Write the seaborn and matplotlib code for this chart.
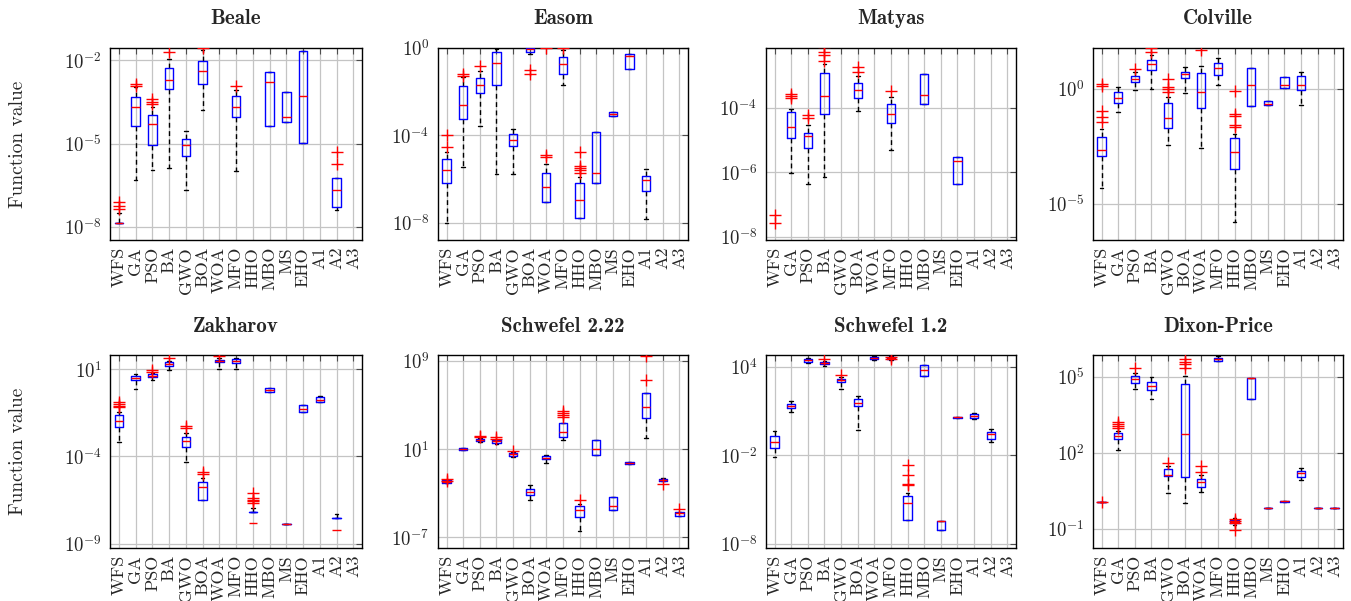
import matplotlib
matplotlib.use("Agg")
import matplotlib.pyplot as plt
import numpy as np
import pandas as pd
import seaborn as sns
from matplotlib.ticker import FixedLocator, FuncFormatter, NullLocator

ALGOS = ["WFS", "GA", "PSO", "BA", "GWO", "BOA", "WOA", "MFO", "HHO", "MBO",
         "MS", "EHO", "A1", "A2", "A3"]

# every box is (whisker low, q1, median, q3, whisker high), given as log10 of the value
# outliers are log10 values too, one list per algorithm
BEALE_BOX = [(-7.85, -7.85, -7.85, -7.85, -7.5), (-6.30, -4.38, -3.70, -3.34, -2.98),
             (-5.96, -5.06, -4.28, -3.98, -3.70), (-5.88, -3.02, -2.72, -2.28, -1.94),
             (-6.68, -5.46, -5.04, -4.82, -4.54), (-3.80, -2.84, -2.38, -2.02, -1.64), None,
             (-5.99, -4.06, -3.68, -3.30, -3.06), None, (-4.36, -4.36, -2.80, -2.41, -2.41),
             (-4.24, -4.24, -4.06, -3.15, -3.15), (-4.99, -4.99, -3.27, -1.65, -1.65), None,
             (-7.40, -7.28, -6.69, -6.24, -6.24), None]
BEALE_OUT = [[-7.10, -7.26, -7.38], [-2.86, -2.92], [-3.40, -3.50, -3.58], [-1.70], [], [-1.56],
             [], [-2.92], [], [], [], [], [], [-5.30, -5.75], []]

EASOM_BOX = [(-8.0, -6.16, -5.59, -5.06, -4.76), (-5.44, -3.23, -2.62, -1.75, -1.33),
             (-3.55, -2.06, -1.68, -1.36, -1.05), (-5.75, -1.69, -0.69, -0.18, -0.03),
             (-5.75, -4.47, -4.22, -3.92, -3.73), (-0.26, -0.18, -0.06, -0.01, -0.005),
             (-7.06, -7.06, -6.36, -5.70, -5.29), (-1.68, -1.17, -0.75, -0.41, -0.10),
             (-7.77, -7.77, -6.97, -6.20, -5.90), (-6.20, -6.20, -5.72, -3.84, -3.84),
             (-3.13, -3.13, -3.03, -2.93, -2.93), (-0.96, -0.96, -0.38, -0.29, -0.29),
             (-7.85, -6.55, -6.05, -5.85, -5.53), None, None]
EASOM_OUT = [[-3.99, -4.53], [-1.20, -1.28], [-0.84], [], [], [-0.99, -1.20],
             [-4.91, -4.98, 0.0], [0.0], [-4.76, -5.40, -5.49, -5.59, -5.70], [], [], [], [], [], []]

MATYAS_BOX = [None, (-6.03, -4.93, -4.60, -4.12, -4.03), (-6.36, -5.24, -4.89, -4.77, -4.53),
              (-6.14, -4.19, -3.64, -2.93, -2.64), None, (-4.10, -3.70, -3.46, -3.23, -3.03), None,
              (-5.32, -4.46, -4.21, -3.90, -3.67), None, (-3.90, -3.90, -3.61, -2.95, -2.95), None,
              (-6.37, -6.37, -5.65, -5.52, -5.52), None, None, None]
MATYAS_OUT = [[-7.31, -7.57], [-3.57, -3.63, -3.69], [-4.24, -4.31], [-2.12, -2.26, -2.38, -2.54],
              [], [-2.74, -2.90], [], [-3.48], [], [], [], [], [], [], []]

COLVILLE_BOX = [(-4.32, -2.93, -2.67, -2.10, -1.77), (-1.02, -0.63, -0.42, -0.16, 0.09),
                (-0.07, 0.27, 0.42, 0.55, 0.73), (0.0, 0.82, 1.08, 1.25, 1.44),
                (-2.45, -1.71, -1.27, -0.62, -0.36), (-0.19, 0.48, 0.62, 0.73, 0.94),
                (-2.56, -0.86, -0.14, 0.68, 0.98), (0.17, 0.61, 0.91, 1.12, 1.33),
                (-5.79, -3.49, -2.74, -2.16, -1.95), (-0.75, -0.75, 0.14, 0.89, 0.89),
                (-0.73, -0.73, -0.65, -0.53, -0.53), (0.04, 0.04, 0.14, 0.50, 0.50),
                (-0.73, -0.07, 0.14, 0.53, 0.73), None, None]
COLVILLE_OUT = [[0.19, 0.10, -0.97, -1.22, -1.44], [], [0.85], [1.76, 1.59],
                [0.40, 0.07, 0.0, -0.14], [], [1.66], [], [-0.10, -1.08, -1.18, -1.59, -1.66],
                [], [], [], [], [], []]

ZAKHAROV_BOX = [(-3.18, -2.32, -1.94, -1.65, -1.46), (-0.11, 0.37, 0.50, 0.62, 0.73),
                (0.39, 0.54, 0.64, 0.73, 0.80), (0.94, 1.21, 1.31, 1.40, 1.48),
                (-4.29, -3.48, -3.10, -2.91, -2.63), (-6.48, -6.48, -5.76, -5.47, -5.24),
                (1.0, 1.40, 1.48, 1.55, 1.63), (1.0, 1.38, 1.48, 1.57, 1.63),
                (-7.17, -7.17, -7.84, -7.17, -6.96), (-0.32, -0.32, -0.18, -0.05, -0.05),
                (-7.87, -7.87, -7.87, -7.87, -7.87), (-1.46, -1.46, -1.29, -1.04, -1.04),
                (-0.89, -0.89, -0.76, -0.60, -0.53), (-7.55, -7.55, -8.24, -7.55, -7.28), None]
ZAKHAROV_OUT = [[-0.85, -0.98, -1.10, -1.18], [], [0.96, 0.87], [1.63], [-2.24, -2.34],
                [-4.90, -5.01], [1.76], [], [-6.10, -6.39, -6.48, -6.58, -6.67], [], [], [], [], [], []]

SCHW222_BOX = [(-2.09, -2.09, -1.97, -1.85, -1.85), (0.90, 0.90, 1.0, 1.09, 1.09),
               (1.60, 1.72, 1.84, 1.93, 1.99), (1.50, 1.54, 1.69, 1.78, 1.82),
               (0.30, 0.36, 0.51, 0.66, 0.70), (-3.60, -3.21, -2.93, -2.60, -2.24),
               (-0.27, 0.12, 0.21, 0.33, 0.45), (1.84, 2.08, 2.53, 3.41, 3.41),
               (-6.41, -5.17, -4.56, -4.14, -3.99), (0.48, 0.48, 1.03, 1.78, 1.78),
               (-4.50, -4.50, -4.14, -3.36, -3.36), (-0.34, -0.34, -0.27, -0.21, -0.21),
               (1.99, 3.80, 4.86, 6.13, 6.13), (-1.88, -1.88, -1.79, -1.69, -1.65),
               (-5.05, -5.05, -4.81, -4.72, -4.72)]
SCHW222_OUT = [[-1.73, -1.94], [], [2.23, 2.08], [2.14, 1.93], [0.78], [], [],
               [4.50, 4.26, 4.05, 3.89], [-3.60], [], [], [], [9.45, 7.28], [-2.18], [-4.44]]

SCHW12_BOX = [(-2.16, -1.49, -1.08, -0.70, -0.38), (0.93, 1.18, 1.31, 1.45, 1.67),
              (4.27, 4.34, 4.43, 4.50, 4.59), (4.05, 4.16, 4.25, 4.34, 4.40),
              (2.49, 2.94, 3.07, 3.19, 3.32), (-0.29, 1.36, 1.52, 1.81, 1.99),
              (4.45, 4.52, 4.61, 4.68, 4.74), (4.45, 4.50, 4.56, 4.68, 4.72),
              (-6.43, -6.43, -5.26, -4.74, -4.58), (3.37, 3.37, 3.75, 4.14, 4.14),
              (-7.11, -7.11, -6.45, -6.45, -6.45), (0.52, 0.52, 0.57, 0.61, 0.61),
              (0.46, 0.55, 0.66, 0.79, 0.88), (-1.12, -0.92, -0.54, -0.42, -0.24), None]
SCHW12_OUT = [[], [], [], [4.54], [3.44], [], [], [4.68, 4.52], [-2.70, -3.38, -3.97, -4.06],
              [], [], [], [], [], []]

DIXON_BOX = [(0.07, 0.07, 0.07, 0.07, 0.07), (2.09, 2.54, 2.65, 2.76, 2.84),
             (4.50, 4.74, 4.90, 5.03, 5.16), (4.11, 4.48, 4.63, 4.78, 4.97),
             (0.41, 1.09, 1.13, 1.36, 1.46), (0.01, 1.04, 2.75, 4.70, 5.03),
             (0.45, 0.65, 0.83, 0.96, 1.13), (5.60, 5.63, 5.69, 5.75, 5.80),
             (-0.85, -0.77, -0.73, -0.63, -0.55), (4.11, 4.11, 4.93, 4.96, 4.96),
             (-0.16, -0.16, -0.16, -0.16, -0.16), (0.06, 0.06, 0.09, 0.12, 0.12),
             (0.92, 1.03, 1.20, 1.30, 1.40), (-0.18, -0.18, -0.18, -0.18, -0.18),
             (-0.18, -0.18, -0.18, -0.18, -0.18)]
DIXON_OUT = [[0.07], [3.23, 3.14, 3.06, 2.97], [5.33], [], [1.59], [5.68, 5.59, 5.50, 5.33],
             [1.49, 1.26], [], [-0.60, -0.68, -0.77, -1.06], [], [], [], [], [], []]

TITLES = ["Beale", "Easom", "Matyas", "Colville", "Zakharov", "Schwefel 2.22",
          "Schwefel 1.2", "Dixon-Price"]
BOXES = [BEALE_BOX, EASOM_BOX, MATYAS_BOX, COLVILLE_BOX, ZAKHAROV_BOX, SCHW222_BOX,
         SCHW12_BOX, DIXON_BOX]
OUTLIERS = [BEALE_OUT, EASOM_OUT, MATYAS_OUT, COLVILLE_OUT, ZAKHAROV_OUT, SCHW222_OUT,
            SCHW12_OUT, DIXON_OUT]
YLIMS = [(-8.48, -1.556), (-8.79, 0.0), (-8.10, -2.15), (-6.56, 1.76),
         (-9.25, 1.82), (-7.98, 9.54), (-8.30, 4.79), (-1.75, 5.85)]
YTICKS = [[-8, -5, -2], [-8, -4, 0], [-8, -6, -4], [-5, 0],
          [-9, -4, 1], [-7, 1, 9], [-8, -2, 4], [-1, 2, 5]]

sns.set_theme(style="whitegrid")
plt.rcParams["font.family"] = ["cmr10", "DejaVu Serif"]
plt.rcParams["mathtext.fontset"] = "cm"
plt.rcParams["axes.formatter.use_mathtext"] = True

W, H = 1351, 601
fig = plt.figure(figsize=(W / 100, H / 100), dpi=100)

# axes frames in pixels: (left, right), (top, bottom)
col_px = [(110, 362), (437.7, 688), (765.7, 1016), (1092.7, 1343)]
row_px = [(48, 240), (355, 548)]
title_y = [19, 327]


def draw_panel(ax, boxes, outliers, ylim, yticks):
    ax.set_yscale("log")
    stats, pos = [], []
    for i, b in enumerate(boxes):
        if b is None:
            continue
        lo, q1, med, q3, hi = (10.0 ** v for v in b)
        stats.append(dict(whislo=lo, q1=q1, med=med, q3=q3, whishi=hi, fliers=[]))
        pos.append(i)
    ax.bxp(stats, positions=pos, widths=0.5, capwidths=0.22, showfliers=False,
           boxprops=dict(color="blue", lw=1.0, zorder=3),
           medianprops=dict(color="red", lw=1.0, zorder=4),
           whiskerprops=dict(color="black", lw=1.0, ls=(0, (3.5, 2.5)), zorder=2),
           capprops=dict(color="black", lw=1.0, zorder=2))

    rows = [(i, 10.0 ** v) for i, vals in enumerate(outliers) for v in vals]
    if rows:
        df = pd.DataFrame(rows, columns=["algo", "value"])
        sns.scatterplot(data=df, x="algo", y="value", marker="+", color="red", s=70,
                        linewidth=1.0, ax=ax, legend=False, zorder=5)

    ax.set_xlim(-0.53, 14.52)
    ax.set_ylim(10.0 ** ylim[0], 10.0 ** ylim[1])
    ax.set_xticks(range(len(ALGOS)))
    ax.set_xticklabels(ALGOS, rotation=90, fontsize=13)
    ax.yaxis.set_major_locator(FixedLocator(10.0 ** np.array(yticks, dtype=float)))
    ax.yaxis.set_minor_locator(NullLocator())
    ax.yaxis.set_major_formatter(FuncFormatter(lambda v, p: r"$10^{%d}$" % round(np.log10(v))))
    ax.tick_params(direction="in", top=True, right=True, length=4, width=0.8, color="0.3")
    ax.tick_params(axis="x", pad=5)
    ax.tick_params(axis="y", labelsize=13.5, pad=6)
    ax.grid(True, color="#c4c4c4", lw=0.9)
    ax.set_xlabel("")
    ax.set_ylabel("")
    for s in ax.spines.values():
        s.set_color("black")
        s.set_linewidth(1.0)


for k in range(8):
    r, c = divmod(k, 4)
    x0, x1 = col_px[c]
    yt, yb = row_px[r]
    ax = fig.add_axes([x0 / W, 1 - yb / H, (x1 - x0) / W, (yb - yt) / H])
    draw_panel(ax, BOXES[k], OUTLIERS[k], YLIMS[k], YTICKS[k])
    fig.text((x0 + x1) / 2 / W, 1 - title_y[r] / H, TITLES[k], ha="center", va="center",
             fontsize=15, family="cmb10")
    if c == 0:
        fig.text(18 / W, 1 - (yt + yb) / 2 / H, "Function value", rotation=90,
                 ha="center", va="center", fontsize=14)

fig.savefig("out.png", dpi=100)
